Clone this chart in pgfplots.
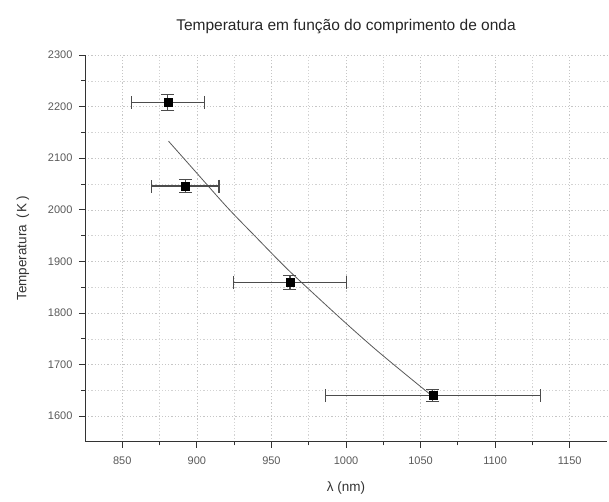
\documentclass[border=0pt]{standalone}
\usepackage{pgfplots}
\pgfplotsset{compat=1.18}
\usepackage{pgfplotstable}
\usepackage{fontspec}
\setmainfont{Liberation Sans}
\pgfplotstableread{
x y ex ey
880.5 2208 24.5 15
892.3 2046 22.5 13
962.4 1859 38 13
1058.2 1640 72 12
}\datatable
\pgfplotstableread{
x y
881 2133
900 2071
920.6 2004
940 1946
960 1887
980 1833
1000 1780
1020 1729
1040 1681
1057 1641
}\fittable
\begin{document}
\begin{tikzpicture}
\path[use as bounding box] (-85pt,-60pt) rectangle (524pt,442pt);
\begin{axis}[
  at={(0pt,0pt)}, anchor=south west,
  scale only axis, width=522pt, height=387pt,
  xmin=825, xmax=1175, ymin=1550, ymax=2300,
  xtick={850,900,...,1150}, ytick={1600,1700,...,2300},
  minor x tick num=1, minor y tick num=1,
  axis x line*=bottom, axis y line*=left,
  x axis line style={-, line width=1pt, black!80},
  y axis line style={-, line width=1pt, black!80},
  tick align=outside,
  major tick length=6pt, minor tick length=3.5pt,
  every tick/.style={black!80, line width=0.8pt},
  grid=both,
  major grid style={gray!45, dash pattern=on 1.2pt off 2pt, line width=0.5pt},
  minor grid style={gray!35, dash pattern=on 1.2pt off 2pt, line width=0.5pt},
  /pgf/number format/assume math mode=true,
  /pgf/number format/1000 sep={},
  tick label style={font=\fontsize{11}{13}\selectfont, text=black!65},
  xticklabel style={yshift=-5pt},
  yticklabel style={xshift=-3pt},
  xlabel={\fontsize{13.5}{15}\selectfont λ (nm)},
  ylabel={\fontsize{13.5}{15}\selectfont Temperatura\hspace{6pt}(\,K\,)},
  xlabel style={yshift=-11pt, text=black!80},
  ylabel style={yshift=12pt, text=black!80},
  title={\fontsize{15.5}{17}\selectfont Temperatura em função do comprimento de onda},
  title style={yshift=12pt, text=black!85},
  clip=false,
]
\addplot[black!65, line width=0.8pt, smooth] table[x=x, y=y] {\fittable};
\addplot[only marks, mark=square*, mark size=4pt, black,
  error bars/.cd, x dir=both, x explicit, y dir=both, y explicit,
  error bar style={line width=1.2pt, black!70},
  error mark options={line width=1.2pt, black!70, mark size=6.5pt, rotate=90}]
  table[x=x, y=y, x error=ex, y error=ey] {\datatable};
\end{axis}
\end{tikzpicture}
\end{document}
